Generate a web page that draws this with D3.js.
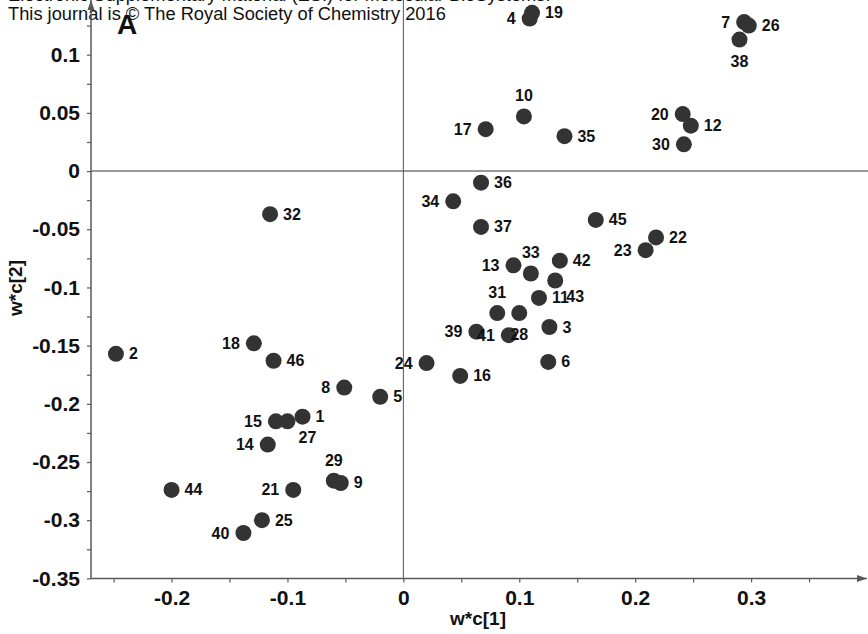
<!DOCTYPE html>
<html>
<head>
<meta charset="utf-8">
<script src="https://cdn.jsdelivr.net/npm/d3@7"></script>
<style>
  body { margin: 0; background: #fff; }
  svg { display: block; font-family: "Liberation Sans", Arial, sans-serif; }
</style>
</head>
<body>
<svg id="chart" width="868" height="634"></svg>
<script>
// observation ids and their loadings w*c[1], w*c[2]
const ids = [1, 2, 3, 4, 5, 6, 7, 8, 9, 10,
  11, 12, 13, 14, 15, 16, 17, 18, 19, 20,
  21, 22, 23, 24, 25, 26, 27, 28, 29, 30,
  31, 32, 33, 34, 35, 36, 37, 38, 39, 40,
  41, 42, 43, 44, 45, 46];
const wc1 = [-0.087, -0.248, 0.126, 0.109, -0.020, 0.125, 0.294, -0.051, -0.054, 0.104,
  0.117, 0.248, 0.095, -0.117, -0.110, 0.049, 0.071, -0.129, 0.111, 0.241,
  -0.095, 0.218, 0.209, 0.020, -0.122, 0.298, -0.100, 0.100, -0.060, 0.242,
  0.081, -0.115, 0.110, 0.043, 0.139, 0.067, 0.067, 0.290, 0.063, -0.138,
  0.091, 0.135, 0.131, -0.200, 0.166, -0.112];
const wc2 = [-0.211, -0.157, -0.134, 0.131, -0.194, -0.164, 0.128, -0.186, -0.268, 0.047,
  -0.109, 0.039, -0.081, -0.235, -0.215, -0.176, 0.036, -0.148, 0.136, 0.049,
  -0.274, -0.057, -0.068, -0.165, -0.300, 0.125, -0.215, -0.122, -0.266, 0.023,
  -0.122, -0.037, -0.088, -0.026, 0.030, -0.010, -0.048, 0.113, -0.138, -0.311,
  -0.141, -0.077, -0.094, -0.274, -0.042, -0.163];
// which side of the dot each id label sits on
const labelSide = ["r", "r", "r", "l", "r", "r", "l", "l", "r", "t",
  "r", "r", "l", "l", "l", "r", "l", "l", "r", "l",
  "l", "r", "l", "l", "r", "r", "br", "b", "t", "l",
  "t", "r", "t", "l", "r", "r", "r", "b", "l", "l",
  "l", "r", "br", "r", "r", "r"];

const xTicks = [-0.2, -0.1, 0, 0.1, 0.2, 0.3];
const xMinor = [-0.25, -0.15, -0.05, 0.05, 0.15, 0.25, 0.35];
const yTicks = [0.1, 0.05, 0, -0.05, -0.1, -0.15, -0.2, -0.25, -0.3, -0.35];
const yMinor = [0.125, 0.075, 0.025, -0.025, -0.075, -0.125, -0.175, -0.225, -0.275, -0.325];

const svg = d3.select("#chart");
const axisColor = "#595959";

const x = d3.scaleLinear().domain([-0.2695, 0.4]).range([91, 867]);
const y = d3.scaleLinear().domain([-0.35, 0.147]).range([578.4, 0]);

// header text (page stamp of the source pdf)
svg.append("text").attr("x", 8).attr("y", 1)
  .attr("font-size", 18.3).attr("fill", "#111")
  .text("Electronic Supplementary Material (ESI) for Molecular BioSystems.");
svg.append("text").attr("x", 8).attr("y", 20)
  .attr("font-size", 18.3).attr("fill", "#111")
  .text("This journal is \u00a9 The Royal Society of Chemistry 2016");

svg.append("defs").append("marker")
  .attr("id", "arrow")
  .attr("viewBox", "0 0 10 10")
  .attr("refX", 10).attr("refY", 5)
  .attr("markerWidth", 10).attr("markerHeight", 10)
  .attr("markerUnits", "userSpaceOnUse")
  .attr("orient", "auto")
  .append("path")
  .attr("d", "M0,1.5L10,5L0,8.5Z")
  .attr("fill", axisColor);

// zero lines
svg.append("line")
  .attr("x1", x.range()[0]).attr("x2", 868)
  .attr("y1", y(0)).attr("y2", y(0))
  .attr("stroke", "#999").attr("stroke-width", 2);
svg.append("line")
  .attr("x1", x(0)).attr("x2", x(0))
  .attr("y1", 0).attr("y2", y.range()[0])
  .attr("stroke", "#555").attr("stroke-width", 1);

// axes
const plain = d => String(d);

function styleAxis(g) {
  g.select(".domain").remove();
  g.selectAll(".tick line").attr("stroke", axisColor).attr("stroke-width", 1.2);
  g.selectAll(".tick text")
    .attr("font-size", 21).attr("font-weight", "bold")
    .attr("font-family", "'Liberation Sans', Arial, sans-serif")
    .attr("fill", "#111");
}

svg.append("g")
  .attr("transform", `translate(0,${y.range()[0]})`)
  .call(d3.axisBottom(x).tickValues(xTicks).tickSize(4).tickPadding(8).tickFormat(plain))
  .call(styleAxis);
svg.append("g")
  .attr("transform", `translate(0,${y.range()[0]})`)
  .call(d3.axisBottom(x).tickValues(xMinor).tickSize(4).tickFormat(""))
  .call(styleAxis);
svg.append("g")
  .attr("transform", `translate(${x.range()[0]},0)`)
  .call(d3.axisLeft(y).tickValues(yTicks).tickSize(4).tickPadding(7).tickFormat(plain))
  .call(styleAxis);
svg.append("g")
  .attr("transform", `translate(${x.range()[0]},0)`)
  .call(d3.axisLeft(y).tickValues(yMinor).tickSize(4).tickFormat(""))
  .call(styleAxis);

svg.append("line")
  .attr("x1", x.range()[0]).attr("x2", x.range()[0])
  .attr("y1", y.range()[0]).attr("y2", 0)
  .attr("stroke", axisColor).attr("stroke-width", 1.5)
  .attr("marker-end", "url(#arrow)");
svg.append("line")
  .attr("x1", x.range()[0]).attr("x2", x.range()[1])
  .attr("y1", y.range()[0]).attr("y2", y.range()[0])
  .attr("stroke", axisColor).attr("stroke-width", 1.5)
  .attr("marker-end", "url(#arrow)");

// axis titles
svg.append("text")
  .attr("x", 478).attr("y", 625)
  .attr("text-anchor", "middle")
  .attr("font-size", 19).attr("font-weight", "bold").attr("fill", "#111")
  .text("w*c[1]");
svg.append("text")
  .attr("transform", "translate(22,288) rotate(-90)")
  .attr("text-anchor", "middle")
  .attr("font-size", 19).attr("font-weight", "bold").attr("fill", "#111")
  .text("w*c[2]");

svg.append("text")
  .attr("x", 117).attr("y", 34)
  .attr("font-size", 28).attr("font-weight", "bold").attr("fill", "#111")
  .text("A");

// points
const pts = ids.map((id, i) => ({ id, w1: wc1[i], w2: wc2[i], side: labelSide[i] }));

svg.append("g")
  .selectAll("circle")
  .data(pts)
  .join("circle")
  .attr("cx", d => x(d.w1))
  .attr("cy", d => y(d.w2))
  .attr("r", 8)
  .attr("fill", "#333");

const offs = {
  r: [13, 5.5, "start"],
  l: [-14, 5.5, "end"],
  t: [0, -15, "middle"],
  b: [0, 27, "middle"],
  br: [20, 22, "middle"]
};

svg.append("g")
  .selectAll("text")
  .data(pts)
  .join("text")
  .attr("x", d => x(d.w1) + offs[d.side][0])
  .attr("y", d => y(d.w2) + offs[d.side][1])
  .attr("text-anchor", d => offs[d.side][2])
  .attr("font-size", 16).attr("font-weight", "bold").attr("fill", "#111")
  .text(d => d.id);
</script>
</body>
</html>
